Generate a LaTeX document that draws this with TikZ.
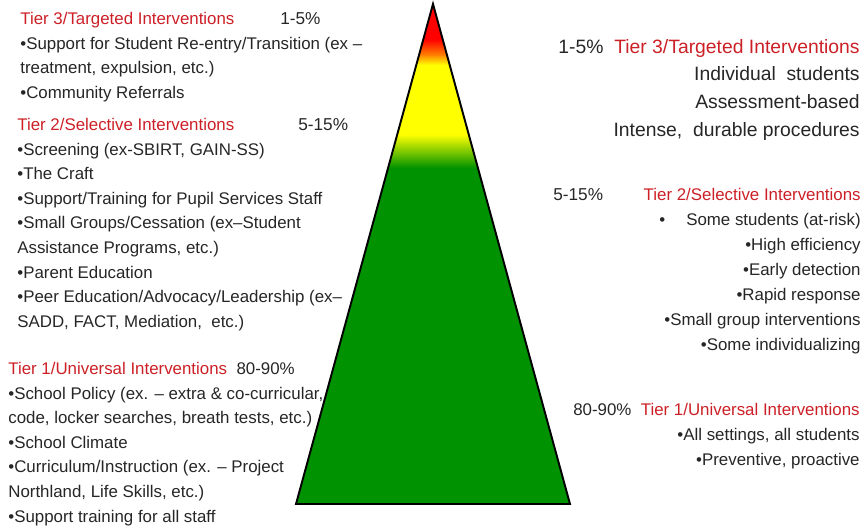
\documentclass[tikz,border=0pt]{standalone}
\usepackage{fontspec}
\setmainfont{Liberation Sans}

\definecolor{tierred}{RGB}{204,32,39}
\definecolor{tiergreen}{RGB}{0,146,0}
\definecolor{tieryellow}{RGB}{255,255,0}
\definecolor{tierorange}{RGB}{255,130,0}
\newcommand{\tiertitle}[1]{\textcolor{tierred}{#1}}

\begin{document}
\begin{tikzpicture}[every node/.style={inner sep=0pt, text=black!85},
	leftlist/.style={anchor=north west, align=left, font=\fontsize{9.6}{14}\selectfont},
	rightlist/.style={anchor=north east, align=right, font=\fontsize{9.6}{14.2}\selectfont},
	pct/.style={anchor=west, font=\fontsize{9.8}{12}\selectfont}]
	\useasboundingbox (0,0) rectangle (17.28,10.58);
	\coordinate (apex) at (8.66,10.50);
	\coordinate (bl) at (5.92,0.50);
	\coordinate (br) at (11.40,0.50);
	% coloured pyramid
	\begin{scope}
		\clip (apex) -- (bl) -- (br) -- cycle;
		\fill[tiergreen] (5.8,0.4) rectangle (11.5,7.23);
		\shade[bottom color=tiergreen, top color=tieryellow] (5.8,7.22) rectangle (11.5,7.89);
		\fill[tieryellow] (5.8,7.88) rectangle (11.5,9.29);
		\shade[bottom color=tieryellow, top color=tierorange] (5.8,9.28) rectangle (11.5,9.49);
		\shade[bottom color=tierorange, top color=red] (5.8,9.48) rectangle (11.5,9.79);
		\fill[red] (5.8,9.78) rectangle (11.5,10.6);
	\end{scope}
	\draw[line width=1.1pt] (apex) -- (bl) -- (br) -- cycle;
	% left column
	\node[leftlist] (t3left) at (0.40,10.34) {\tiertitle{Tier 3/Targeted Interventions}\\
		•Support for Student Re-entry/Transition (ex –\\
		treatment, expulsion, etc.)\\
		•Community Referrals};
	\node[pct] (t3leftpct) at (5.60,10.20) {1-5\%};
	\node[leftlist] (t2left) at (0.34,8.22) {\tiertitle{Tier 2/Selective Interventions}\\
		•Screening (ex-SBIRT, GAIN-SS)\\
		•The Craft\\
		•Support/Training for Pupil Services Staff\\
		•Small Groups/Cessation (ex–Student\\
		Assistance Programs, etc.)\\
		•Parent Education\\
		•Peer Education/Advocacy/Leadership (ex–\\
		SADD, FACT, Mediation,~ etc.)};
	\node[pct] (t2leftpct) at (5.96,8.08) {5-15\%};
	\node[leftlist] (t1left) at (0.16,3.34) {\tiertitle{Tier 1/Universal Interventions}~ 80-90\%\\
		•School Policy (ex. – extra \& co-curricular,\\
		code, locker searches, breath tests, etc.)\\
		•School Climate\\
		•Curriculum/Instruction (ex. – Project\\
		Northland, Life Skills, etc.)\\
		•Support training for all staff};
	% right column
	\node[rightlist, font=\fontsize{11}{15.7}\selectfont] (t3right) at (17.20,9.80) {1-5\%~ \tiertitle{Tier 3/Targeted Interventions}\\
		Individual~ students\\
		Assessment-based\\
		Intense,~ durable procedures};
	\node[pct] (t2rightpct) at (11.06,6.68) {5-15\%};
	\node[rightlist] (t2right) at (17.22,6.82) {\tiertitle{Tier 2/Selective Interventions}\\
		•\hspace{12pt}Some students (at-risk)\\
		•High efficiency\\
		•Early detection\\
		•Rapid response\\
		•Small group interventions\\
		•Some individualizing};
	\node[rightlist] (t1right) at (17.20,2.52) {80-90\%~ \tiertitle{Tier 1/Universal Interventions}\\
		•All settings, all students\\
		•Preventive, proactive};
\end{tikzpicture}
\end{document}
